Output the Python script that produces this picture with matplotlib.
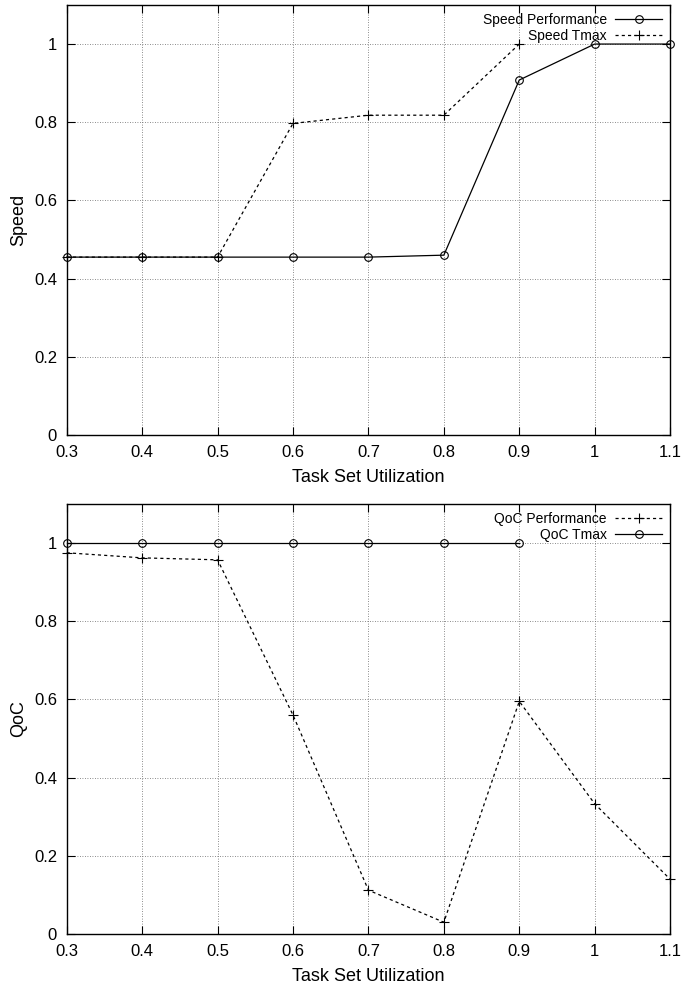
import matplotlib
matplotlib.use("Agg")
import matplotlib.pyplot as plt
from matplotlib.ticker import FuncFormatter

# data
util = [0.3, 0.4, 0.5, 0.6, 0.7, 0.8, 0.9, 1.0, 1.1]
speed_perf = [0.455, 0.455, 0.455, 0.455, 0.455, 0.46, 0.908, 1.0, 1.0]
speed_tmax = [0.455, 0.455, 0.455, 0.797, 0.818, 0.818, 1.0]
qoc_perf = [0.975, 0.962, 0.957, 0.56, 0.112, 0.03, 0.595, 0.333, 0.14]
qoc_tmax = [1.0, 1.0, 1.0, 1.0, 1.0, 1.0, 1.0]

xticks = [0.3, 0.4, 0.5, 0.6, 0.7, 0.8, 0.9, 1.0, 1.1]
yticks = [0, 0.2, 0.4, 0.6, 0.8, 1.0]

plt.rcParams['font.family'] = ['Liberation Sans', 'DejaVu Sans']

fig = plt.figure(figsize=(6.81, 9.9), dpi=100)
ax1 = fig.add_axes([0.098, 0.5606, 0.886, 0.4344])
ax2 = fig.add_axes([0.098, 0.0566, 0.886, 0.4344])

dash = (0, (2.5, 2.5))
fmt = FuncFormatter(lambda v, p: f"{v:g}")


def style(ax, ylabel):
    ax.set_xlim(0.3, 1.1)
    ax.set_ylim(0, 1.1)
    ax.set_xticks(xticks)
    ax.set_yticks(yticks)
    ax.xaxis.set_major_formatter(fmt)
    ax.yaxis.set_major_formatter(fmt)
    ax.tick_params(direction='in', top=True, right=True, length=6, width=0.8,
                   labelsize=12, pad=7)
    ax.grid(True, color='#666666', linestyle=(0, (1, 2)), linewidth=0.6)
    for s in ax.spines.values():
        s.set_linewidth(1.0)
    ax.set_xlabel('Task Set Utilization', fontsize=13, labelpad=7)
    ax.set_ylabel(ylabel, fontsize=13, labelpad=5)


ax1.plot(util, speed_perf, color='black', lw=0.9, marker='o', ms=5.5,
         mfc='none', mew=0.8, label='Speed Performance', clip_on=False, zorder=3)
ax1.plot(util[:len(speed_tmax)], speed_tmax, color='black', lw=0.9, ls=dash,
         marker='+', ms=7, mew=0.8, label='Speed Tmax', clip_on=False, zorder=3)
style(ax1, 'Speed')

ax2.plot(util, qoc_perf, color='black', lw=0.9, ls=dash, marker='+', ms=7,
         mew=0.8, label='QoC Performance', clip_on=False, zorder=3)
ax2.plot(util[:len(qoc_tmax)], qoc_tmax, color='black', lw=0.9, marker='o',
         ms=5.5, mfc='none', mew=0.8, label='QoC Tmax', clip_on=False, zorder=3)
style(ax2, 'QoC')

for ax in (ax1, ax2):
    leg = ax.legend(loc='upper right', frameon=False, markerfirst=False,
                    fontsize=10, handlelength=3.4, handletextpad=0.6,
                    labelspacing=0.15, borderaxespad=0.15)
    for t in leg.get_texts():
        t.set_ha('right')
    leg._legend_box.align = 'right'

fig.savefig('out.png', dpi=100)
